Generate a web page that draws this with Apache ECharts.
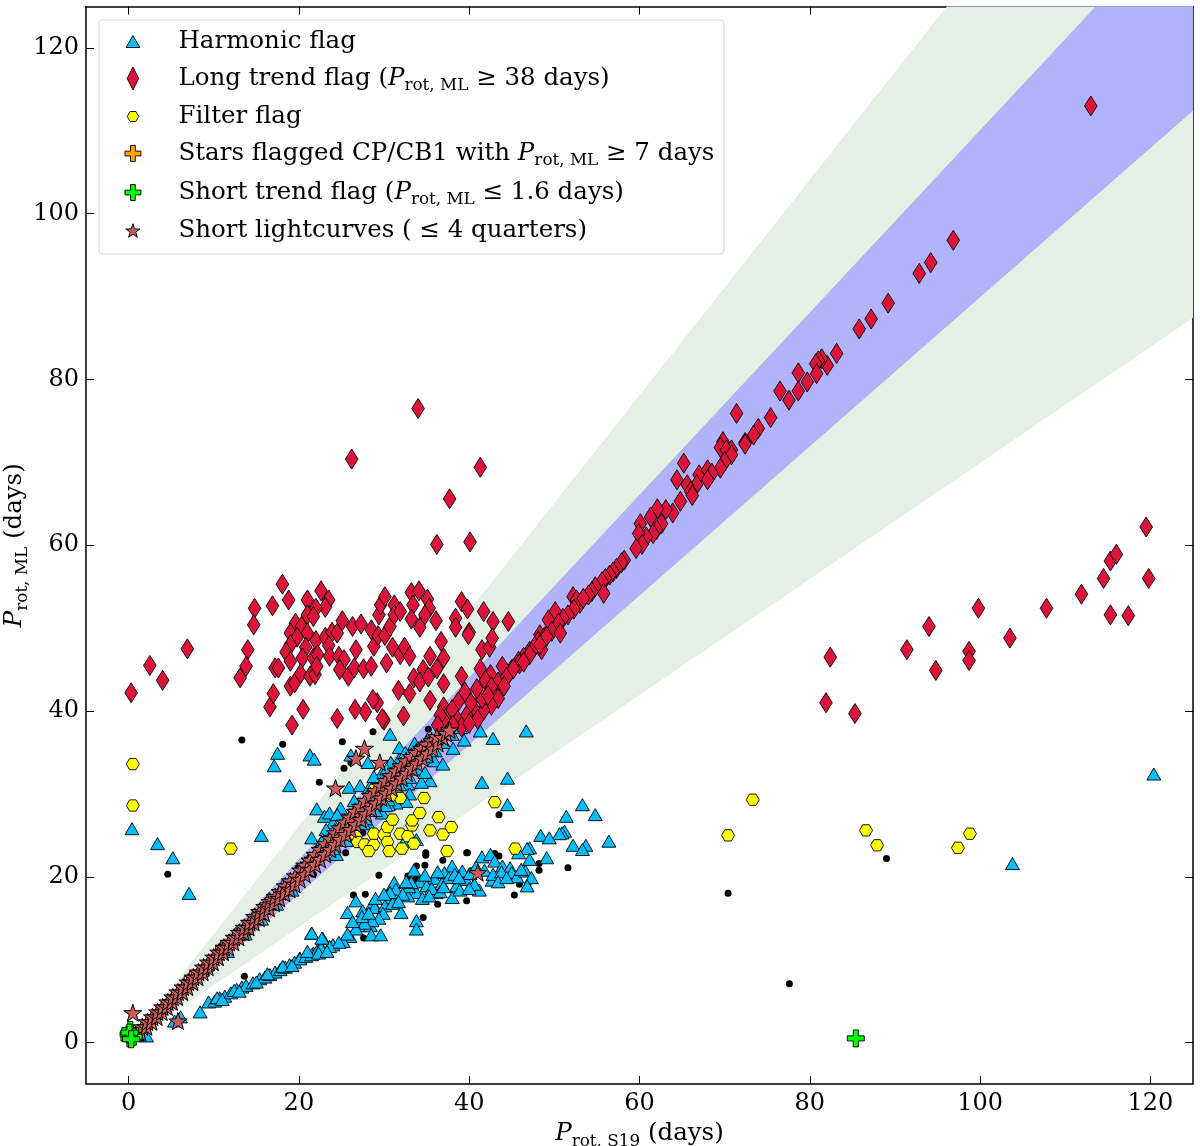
<!DOCTYPE html>
<html><head><meta charset="utf-8">
<script src="https://cdn.jsdelivr.net/npm/echarts@6/dist/echarts.min.js"></script>
<style>html,body{margin:0;padding:0;background:#fff}#c{width:1200px;height:1146px}</style>
</head><body><div id="c"></div>
<script>
const xTicks=[0,20,40,60,80,100,120];
const yTicks=[0,20,40,60,80,100,120];
const xRange=[-5,125];
const yRange=[-5,125];
const greenBand=[[0,0],[125,162.5],[125,87.5]];
const blueBand=[[0,0],[125,137.5],[125,112.5]];

const blackPoints=[[13.3,36.5],[18.1,36],[25.1,36.3],[28.7,37.5],[35.2,37.8],[26.1,33.8],[25.3,33.1],[22.4,31.4],[19.9,21.1],[21.7,20.3],[25.5,22.9],[27.5,25.3],[43.5,27.5],[34.9,22.9],[34.9,22.6],[36.9,22],[39.7,22.9],[43.5,22.5],[34.8,21.4],[33.8,21.3],[32.8,20.1],[33.7,19.7],[29.4,20.2],[35.3,19.4],[40.2,20.7],[30.4,18.1],[27.8,17.9],[26.4,17.8],[39.7,17.1],[36.3,16.7],[34.6,15.1],[27.6,12.6],[45.3,17.8],[44.7,19.6],[45.9,19.1],[39.8,22.9],[51.6,21.1],[48.2,21.6],[48.2,20.8],[46.9,19],[43,22.8],[70.4,18],[77.6,7.1],[89,22.2],[4.6,20.3],[13.6,8]];

const harmonicPoints=[[17.5,34.9],[17.1,33.4],[21.3,34.7],[21.8,34.2],[18.9,31],[15.6,25],[26.1,34.7],[28.1,33.8],[30.7,37.2],[31.8,35.6],[33.6,36.1],[35.1,36.6],[41.3,37.6],[39.4,36.5],[42.8,36.7],[46.7,37.6],[41.5,31.4],[44.5,31.9],[44.5,28.7],[53.3,28.7],[54.8,27.5],[51.4,27.3],[51.2,25.5],[50.9,25.3],[50.6,25.2],[48.4,25],[49.4,24.7],[56.4,24.3],[52.2,23.8],[53.7,23.8],[53.3,23.3],[47.1,23.5],[46.8,23.4],[47.1,22.1],[49.1,22.3],[45.8,22.9],
[41.5,22.4],[42.5,22.7],[43,21.9],[43.9,21.3],[44.8,21.1],[42.7,19.6],[41.2,18.4],[39.6,19.7],[39.2,20.7],[38,21.3],[37.1,20.5],[35.9,19.8],[38.5,18.9],[38,17.5],[33.5,20.8],[34.2,19.4],[31.2,19.3],[31.4,18.5],[33.8,18.1],[36.1,18.1],[32.8,17.7],[30.8,17.5],[32,15.7],[33.8,14.7],[33.8,13.7],[26.7,17.1],[25.7,15.7],[27.5,15.9],[28.7,16.8],[28.9,16.3],[30.1,16.5],[27.1,14.1],[28.4,14.1],[28.5,13],[29.6,13],[26,12.8],[21.5,13.2],[22.8,12.6],[22.8,11.2],[21.7,10.8],[20.1,10.2],[24,11.8],[25.2,12.2],
[40.1,20.4],[40.8,21.2],[41.8,20.8],[42.8,20.3],[43.8,20.6],[45,20.5],[45.6,20],[46.6,20.7],[47.3,19.9],[46.8,18.9],[46.1,20.9],[36.8,19.2],[37.6,19.9],[38.3,20.3],[35,18.9],[35.6,18.6],[36.6,18.2],[32.9,18.8],[32.2,17.9],[31,16.8],[29.9,15.6],[29.4,15],[28.6,14.7],[27.7,14.4],[26.7,13.7],[25.7,13.1],[33.2,19.3],[37,18.8],[38.9,18.4],[40.6,19.1],[24.7,12.1],[23.6,11.6],[22.4,11.3],[30.7,18.1],[32.6,19.4],[34.8,20.2],[29,17.4],[30,17.9],[27.4,15.2],[28.2,15.6],[26.3,14.6],[31.7,17],[34.5,17.4],[35.3,17.7],[40,18.6],[43.4,19.4],[44.4,19.9],[38.8,19.9],[36.3,20.6],
[8.4,3.7],[21.5,13.2],[9.4,4.9],[10.1,5],[10.7,5.4],[11.3,5.6],[12,6],[12.7,6.4],[13.3,6.7],[13.8,6.9],[14.6,7.2],[15.4,7.7],[16,7.9],[16.6,8.2],[17.2,8.5],[17.8,8.8],[18.4,9.1],[18.9,9.4],[19.5,9.7],[20.1,10.1],[20.8,10.4],[21.5,10.6],[22.1,11],[22.6,11.4],[22.7,12.6],[5.4,2.6],[6.1,3.1],[2.1,0.8],[1,0.9],[10.4,5.4],[11,5.2],[12.4,6.3],[13,6.2],[15,7.3],[16.3,8.3],[18.1,9.2],[19.2,9.3],[21,11],[22.3,10.8],[23.3,11],
[120.4,32.4],[103.8,21.6],[0.4,25.8],[3.4,24],[5.2,22.3],[7.1,18],
[22.1,28.2],[23,27.3],[23.6,27.7],[24.9,28.3],[25.9,30.8],[27.2,31],[28.3,30.8],[29.1,31.4],[29.7,32.4],[30.8,33.8],[31.8,34.2],[32.8,34],[33.8,35.4],[34.2,35],[35.3,36.2],[21.5,24.7],[24,26.5],[23.2,25.7],[24.4,22.7],[35.9,34],[35.4,31.6],[34.4,31.4],[36.9,33.6],[32.8,31.2],[33,30],[32.6,29.1],[31.4,28.9],[30.5,28.7],[29.8,27.7],[28.1,26.5],[33.8,24.5],[32.4,24.3],
[20,20.8],[22,23],[23.5,24.6],[25,26.2],[26,25],[27,28.8],[28,29.7],[29,28],[30,31.5],[31,30],[32,33.2],[33,32],[34,33],[35,34.5],[36,35.2],[37,36.2],[38,37.2],[39,38],[40,39.2],[24.5,27.5],[26.5,29.2],[27.8,27],[29.2,30.2],[30.5,29.3],[31.8,31.1],[33.5,34.3],[34.8,32.6],[25.6,24.4],[22.8,24.5],[21.2,22.2],[24,23.4],[28.8,32.1],[30.3,33],[32.5,35],[36.6,37.3],[38.1,35.5],[18.2,19.1],[16.5,17.4],[14.8,15.5],[19.2,18.4],[17.4,16.7],[15.6,14.9],[12.6,13.2],[13.7,13.1],[10.8,11.4],[11.6,11],[26.3,27.4],[27.6,26.4],[30.2,28.6],[24.2,25.7]];

const longTrendPoints=[[18.06,55.3],[18.8,53.4],[22.6,54.5],[21,53.4],[23.5,53.4],[23.1,52.5],[22,52.4],[21,51.6],[21.7,51.4],[14.8,52.4],[16.9,52.7],[14.7,50.4],[19.6,50.6],[20.3,50.2],[19,49.4],[21,49.4],[19.8,48.9],[19,48],[22,48.5],[20.8,47.7],[18.5,47.1],[19,46],[20.4,46.4],[21.7,46.4],[22.2,46.8],[23.1,48.9],[23.9,49.5],[24.5,49.4],[25.1,50.9],[23.5,47.9],[23.6,46.6],[24.7,46.6],[25.3,46.2],[26.3,50.2],[27.3,50.5],[28.5,49.8],[26.7,47.4],[28.8,47.8],[29.3,49.1],[30.1,49.1],[30.7,50.2],[29.4,51.6],[29.6,52.8],[30.1,53.8],[31.2,52.8],[31.2,51.6],[31.9,52],[33.2,54.3],[34.1,54.5],[33.4,52.8],[35.1,53.5],[35.3,52.4],[34.8,51.6],[33.2,51.1],[34.2,50.1],[36.1,50.9],[38.4,51.2],[38.4,50.1],[39.1,53.2],[39.8,52.3],[41.7,52],[42.8,50.8],[44.6,50.8],[40,49.5],[36.7,48.4],[37,46.4],[35.4,46.6],[34.6,45],[36.2,45.1],[33.5,44],[34.2,43.5],[35.2,44.1],[37,43.3],[39.1,44.2],[41.5,47.4],[42.4,47.7],[42.7,48.8],[41.3,45.1],[39.9,49.2],[33,42.1],[31.7,42.5],[35.4,41.3],[32.3,39.4],[37,40.5],[30,38.9],[29.8,39.1],[29.2,41],[28.7,41.4],[27.8,39.9],[26.6,40.2],[24.5,39.1],[20.5,40.2],[19.2,38.3],[16.6,40.5],[17,42.1],[19,43],[19.5,43.4],[20.2,44.5],[21.3,44.2],[21.9,44.4],[22.1,45.4],[17.2,45.2],[17.6,45.2],[14,47.4],[13.8,45.4],[13.1,44],[24.8,45],[25.8,44.2],[26.5,45.2],[27.6,45.1],[28.5,45.4],[30.3,45.8],[31,47.7],[31.9,46.8],[32.4,47.7],[33,46.6],
[26.2,70.4],[34,76.5],[37.7,65.6],[36.2,60.1],[40.1,60.4],[41.3,69.4],[0.3,42.2],[2.5,45.5],[4,43.7],[6.9,47.5],
[81.9,41],[82.4,46.5],[85.3,39.7],[91.4,47.4],[94,50.2],[94.8,44.9],[98.7,47.2],[98.7,46.1],[99.8,52.4],[103.5,48.8],[107.8,52.4],[111.9,54.1],[114.5,56],[115.3,58.1],[115.3,51.6],[116,58.9],[117.4,51.5],[119.5,62.2],[119.8,56],
[113,113],[96.85,96.8],[94.2,94.1],[92.85,92.8],[89.2,89.2],[87.2,87.3],[85.8,86.1],
[83.15,83.15],[82.05,81.7],[81.4,82.5],[81,82.25],[80.7,81.9],[80.8,80.7],[79.7,79.7],[78.65,80.8],[78.65,78.6],[77.55,77.5],[76.5,78.6],[75.4,75.4],[71.4,75.9],[73.95,74.1],[73.4,73.3],[72.4,72.4],[69.8,72.5],[70.8,71.5],
[65.2,69.9],[64.4,67.9],[69.5,71.8],[72.4,72.2],[70.2,71.5],[70.8,70.9],[70,70.1],[69.5,69.3],[67,68.5],[68,69.1],[68.5,68.7],[68,67.9],[66.7,67.3],[65.6,67.3],[66,66.5],[66.2,66],[64.8,65.3],[63.9,63.9],[63.1,64.3],[62.1,64.4],[61.3,63.4],[60.1,62.6],[62.6,62.6],[62,61.9],[61.6,61.4],[60.8,61],[59.9,61.4],[60.3,60.1],[59.6,59.6],[58.2,58.2],[57.9,57.9],[57.3,57.2],[56.9,56.8],[56.5,56.4],[56,56],[55.6,55.6],[55.8,54.2],[54.8,55],[54.4,54.4],[54,54],[52.2,53.8],[53,53],[52.6,53.4],[53.4,53.6],[52.3,52.3],[51.6,51.6],[51,51.2],[50.1,52],[49.3,51],[50.5,50.6],[49.7,49.6],[50.7,49.4],[48.3,49.2],[48.9,49],[48.1,48.4],[48.5,47.4],[47.1,47.2],[47.7,47.8],[46.4,46.5],[45.8,46],[45,45],
[49.1,49],[48.3,48],[47.1,46.8],[45.9,45.7],[44.8,44.7],[43.9,45.4],[42.5,44.4],[41.9,43.7],[43.4,43.5],[43.4,41.5],[42.6,40.7],[41.7,40.1],[41.5,41.5],[40.9,42.7],[40.5,40.3],[39.5,42.3],[38.7,41.1],[39.7,39.5],[38.5,39.1],[37.5,39.5],[37,38.9],[36.6,39.5],[39.1,38.1],[42.6,42.9],[44.4,44.1],[45.2,45.1],[40.2,41],[38,40.2],[41,39],[42.2,41.9],[44.1,43],[46.4,45.9],[40,38.5],[38.1,38.3],[36.3,38.3]];

const filterPoints=[[12,23.4],[26.7,24.9],[26.9,24.2],[27.7,23.9],[28.8,23.9],[28.2,23.1],[28.8,25.2],[30,25.1],[30.4,26],[31,26.9],[30.4,24.2],[30.6,23.1],[31.9,25.2],[32.1,23.4],[32.8,24.9],[33.5,24],[33.3,26.2],[33.3,26.8],[34.2,27.7],[35.4,25.6],[36.4,27.2],[36.9,25.1],[37.9,26],[37.4,23.1],[34.7,29.5],[31.9,29.5],[30.8,29.8],[28.8,30.5],[31.4,32.6],[43,29],[45.4,23.4],[0.5,33.6],[0.5,28.6],[70.4,25],[73.3,29.3],[86.6,25.6],[87.9,23.8],[97.4,23.5],[98.8,25.2]];

const cpPoints=[[7.4,7.7],[9.2,8.9],[11.1,11.4],[13.6,13.3],[16.3,16.6],[18.5,18.2],[21.2,21.5],[24.6,24.9],[27.4,27.7]];

const shortTrendPoints=[[0.1,0.5],[0.3,0.9],[0.4,0.6],[0,1],[0.2,1.5],[0.6,0.7],[0.1,1.2],[0.3,0.4],[85.4,0.5]];

const shortCurvePoints=[[0.5,3.6],[5.8,2.6],[27.7,35.5],[26.7,34.3],[29.5,33.8],[24.3,30.7],[41,20.5],
[1,1.2],[1.4,1.2],[1.6,1.9],[2.1,1.9],[2.2,2.5],[2.7,2.5],[2.8,3.1],[3.3,3.1],[3.4,3.7],[3.9,3.7],[4,4.3],[4.5,4.3],[4.6,4.9],[5.1,4.9],[5.2,5.5],[5.7,5.5],[5.8,6.1],[6.3,6.1],[6.4,6.7],[6.9,6.7],[7,7.3],[7.5,7.3],[7.6,7.9],[8.1,7.9],[8.2,8.5],[8.7,8.5],[8.8,9.1],[9.3,9.1],[9.4,9.7],[9.9,9.7],[10,10.3],[10.5,10.3],[10.6,10.9],[11.1,10.9],[11.2,11.5],[11.7,11.5],[11.8,12.1],[12.3,12.1],[12.4,12.7],[12.9,12.7],[13,13.3],[13.5,13.3],[13.6,13.9],[14.1,13.9],[14.2,14.5],[14.7,14.5],[14.8,15.2],[15.3,15],[15.4,15.8],[15.9,15.6],[16,16.4],[16.5,16.2],[16.6,17],[17.1,16.8],[17.2,17.6],[17.7,17.4],[17.8,18.2],[18.3,18],[18.4,18.9],[18.9,18.5],[19,19.5],[19.5,19.1],[19.6,20.1],[20.1,19.7],[20.2,20.8],[20.7,20.3],[20.7,21.4],[21.3,20.9],[21.3,22],[21.9,21.5],[21.9,22.7],[22.5,22.1],[22.5,23.3],[23.1,22.7],[23.1,24],[23.7,23.3],[23.7,24.6],[24.3,23.9],[24.3,25.3],[24.9,24.5],[24.8,25.9],[25.5,25.1],[25.4,26.6],[26.1,25.7],[26,27.2],[26.7,26.3],[26.6,27.9],[27.3,26.9],[27.2,28.5],[27.9,27.6],[27.8,29.2],[28.5,28.2],[28.4,29.8],[29.1,28.9],[29,30.4],[29.7,29.5],[29.6,31],[30.3,30.1],[30.2,31.6],[30.9,30.7],[30.8,32.2],[31.5,31.3],[31.4,32.8],[32.1,31.9],[32,33.4],[32.7,32.5],[32.6,34],[33.3,33.1],[33.2,34.5],[33.9,33.7],[33.8,35],[34.5,34.3],[34.4,35.5],[35.1,34.9],[35,36],[35.7,35.5],[35.6,36.4],[36.3,36.1],[36.2,36.9],[36.9,36.8],[37.3,37.3],[37.7,37.7]];

const P_tri='path://M0 -9.5 L11 9.5 L-11 9.5 Z';
const P_dia='path://M0 -15 L9.5 0 L0 15 L-9.5 0 Z';
const P_diaLegend='path://M0 -15 L7.5 0 L0 15 L-7.5 0 Z';
const P_hex='path://M-10 0 L-5 -8.66 L5 -8.66 L10 0 L5 8.66 L-5 8.66 Z';
const P_plus='path://M-3 -10 L3 -10 L3 -3 L10 -3 L10 3 L3 3 L3 10 L-3 10 L-3 3 L-10 3 L-10 -3 L-3 -3 Z';
const P_star='path://M0 -10 L2.35 -3.09 L9.51 -3.09 L3.8 1.18 L5.88 8.09 L0 4 L-5.88 8.09 L-3.8 1.18 L-9.51 -3.09 L-2.35 -3.09 Z';
const F='"DejaVu Serif"';

const names=['Harmonic flag','Long trend flag','Filter flag','Stars flagged CP/CB1','Short trend flag','Short lightcurves'];
const labels={
 'Harmonic flag':'{t|Harmonic flag}',
 'Long trend flag':'{t|Long trend flag (}{i|P}{s|rot, ML}{t| ≥ 38 days)}',
 'Filter flag':'{t|Filter flag}',
 'Stars flagged CP/CB1':'{t|Stars flagged CP/CB1 with }{i|P}{s|rot, ML}{t| ≥ 7 days}',
 'Short trend flag':'{t|Short trend flag (}{i|P}{s|rot, ML}{t| ≤ 1.6 days)}',
 'Short lightcurves':'{t|Short lightcurves ( ≤ 4 quarters)}'
};
const rich={
 t:{fontFamily:F,fontSize:24.5,color:'#000',verticalAlign:'middle',lineHeight:32},
 i:{fontFamily:F,fontStyle:'italic',fontSize:24.5,color:'#000',verticalAlign:'middle',lineHeight:32},
 s:{fontFamily:F,fontSize:16.8,color:'#000',verticalAlign:'bottom',lineHeight:32}
};
const rowTops=[40,77,115,152,191,229];
const iconH=[12,23,10,16,16,13.5];
const iconW=[13.9,11.5,11.5,16,16,14.2];
const icons=[P_tri,P_diaLegend,P_hex,P_plus,P_plus,P_star];
const legends=names.map((n,i)=>({
 show:true,data:[{name:n,icon:icons[i]}],orient:'horizontal',left:132.5-iconW[i]/2,top:rowTops[i]-11,padding:0,height:36,
 itemWidth:81,itemHeight:iconH[i],symbolKeepAspect:true,selectedMode:false,
 itemStyle:{borderColor:'#000',borderWidth:0.9},
 formatter:(nm)=>labels[nm],textStyle:{rich,fontFamily:F,fontSize:24.5,color:'#000'}
}));
function band(name,pts,fill,stroke,z){
 return {type:'custom',name,coordinateSystem:'cartesian2d',clip:true,silent:true,z,data:[[0,0]],
  renderItem:(p,api)=>({type:'polygon',shape:{points:pts.map(q=>api.coord(q))},style:{fill,stroke,lineWidth:1}})};
}
function scat(name,data,symbol,size,color,z,bw){
 return {type:'scatter',name,data,symbol,symbolSize:size,symbolKeepAspect:true,z,
  itemStyle:{color,borderColor:'#000',borderWidth:bw===undefined?0.9:bw,opacity:1},silent:true};
}
const axBase={type:'value',axisLine:{show:true,onZero:false,lineStyle:{color:'#000',width:1.5}},splitLine:{show:false},minorTick:{show:false}};
const chart=echarts.init(document.getElementById('c'),null,{renderer:'canvas'});
chart.setOption({
 animation:false,backgroundColor:'#fff',
 grid:{left:86,top:6.5,right:7,bottom:62,containLabel:false,outerBoundsMode:'none'},
 legend:legends,
 graphic:[{type:'rect',z:1,zlevel:0,shape:{x:99,y:20,width:625,height:234,r:4},style:{fill:'#fff',stroke:'#dcdcdc',lineWidth:1.2}}],
 xAxis:[Object.assign({},axBase,{min:xRange[0],max:xRange[1],position:'bottom',
   name:'{i|P}{s|rot, S19}{t| (days)}',nameLocation:'middle',nameGap:34,nameMoveOverlap:false,nameTextStyle:{rich},
   axisTick:{show:true,inside:true,length:8,lineStyle:{color:'#000',width:1},customValues:xTicks},
   axisLabel:{show:true,margin:8,fontFamily:F,fontSize:24,color:'#000',customValues:xTicks}}),
  Object.assign({},axBase,{min:xRange[0],max:xRange[1],position:'top',
   axisTick:{show:true,inside:true,length:8,lineStyle:{color:'#000',width:1},customValues:xTicks},axisLabel:{show:false}})],
 yAxis:[Object.assign({},axBase,{min:yRange[0],max:yRange[1],position:'left',
   name:'{i|P}{s|rot, ML}{t| (days)}',nameLocation:'middle',nameGap:55,nameMoveOverlap:false,nameRotate:90,nameTextStyle:{rich},
   axisTick:{show:true,inside:true,length:8,lineStyle:{color:'#000',width:1},customValues:yTicks},
   axisLabel:{show:true,margin:7,fontFamily:F,fontSize:24,color:'#000',customValues:yTicks}}),
  Object.assign({},axBase,{min:yRange[0],max:yRange[1],position:'right',
   axisTick:{show:true,inside:true,length:8,lineStyle:{color:'#000',width:1},customValues:yTicks},axisLabel:{show:false}})],
 series:[
  band('band30',greenBand,'#e5f0e5','#e0ede0',1),
  band('band10',blueBand,'#b2b3fd','#a6b0e6',1),
  scat('All stars',blackPoints,'circle',7,'#000',2,0),
  scat(names[0],harmonicPoints,P_tri,14,'#00BFFF',3),
  scat(names[1],longTrendPoints,P_dia,20,'#DC143C',4),
  scat(names[2],filterPoints,P_hex,13,'#FFFF00',5),
  scat(names[3],cpPoints,P_plus,15,'#FFA500',6),
  scat(names[5],shortCurvePoints,P_star,18,'#CD5C5C',7,1),
  scat(names[4],shortTrendPoints,P_plus,17,'#00FF00',8)
 ]
});
</script></body></html>
